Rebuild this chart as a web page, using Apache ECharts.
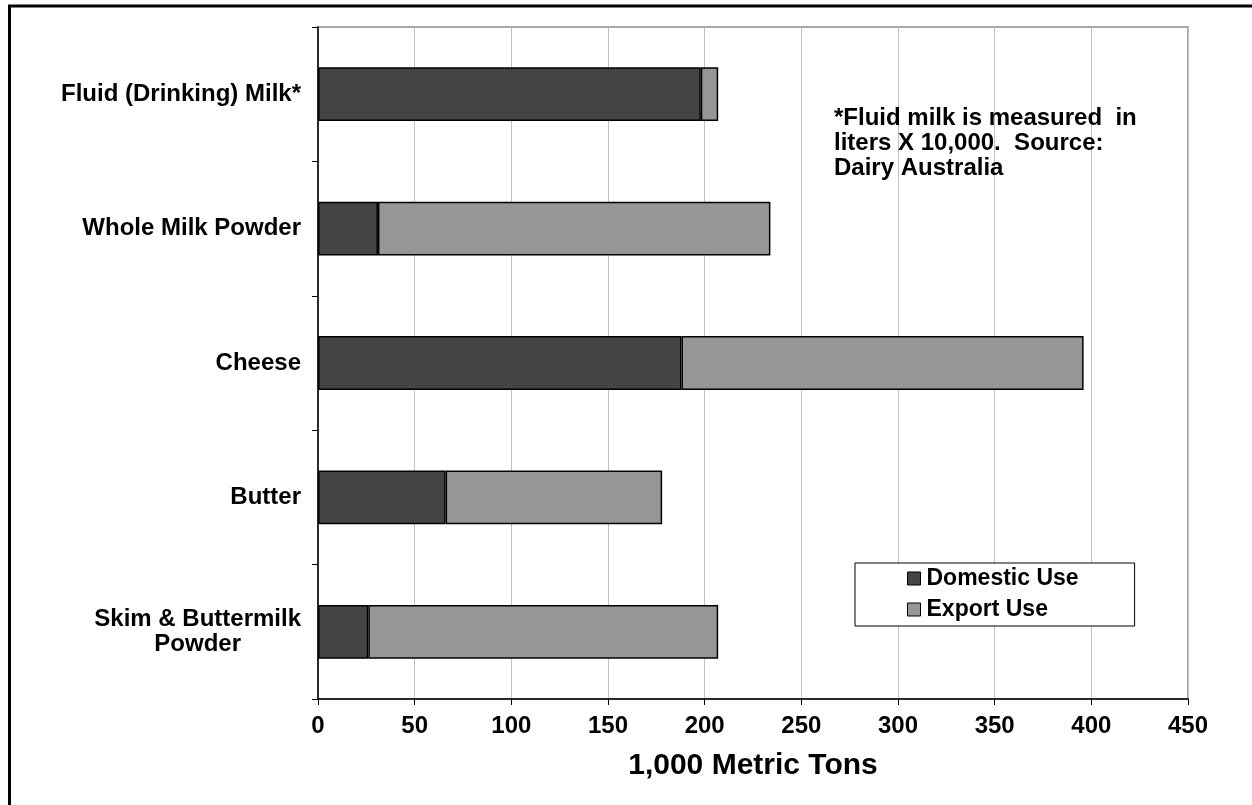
<!DOCTYPE html>
<html>
<head>
<meta charset="utf-8">
<title>Dairy Product Use</title>
<script src="https://cdn.jsdelivr.net/npm/echarts@6/dist/echarts.min.js"></script>
<style>
  html, body { margin: 0; padding: 0; background: #ffffff; }
  #chart { width: 1252px; height: 805px; }
</style>
</head>
<body>
<div id="chart"></div>
<script>
// Product categories, top to bottom
const categories = [
  'Fluid (Drinking) Milk*',
  'Whole Milk Powder',
  'Cheese',
  'Butter',
  'Skim & Buttermilk\nPowder'
];
// Volumes in 1,000 metric tons (fluid milk in liters x 10,000)
const domesticUse = [198, 31, 188, 66, 26];
const exportUse = [9, 203, 208, 112, 181];
const seriesNames = ['Domestic Use', 'Export Use'];
const noteLines = [
  '*Fluid milk is measured  in',
  'liters X 10,000.  Source:',
  'Dairy Australia'
];

const FONT = '"Liberation Sans", Arial, Helvetica, sans-serif';
const chart = echarts.init(document.getElementById('chart'), null, { renderer: 'canvas' });

chart.setOption({
  animation: false,
  backgroundColor: '#ffffff',
  textStyle: { fontFamily: FONT, color: '#000' },
  grid: {
    left: 318, right: 64, top: 27, bottom: 106,
    show: true, borderColor: '#a8a8a8', borderWidth: 2, backgroundColor: 'transparent'
  },
  legend: {
    orient: 'vertical',
    left: 855, top: 563,
    padding: [4, 56, 5, 52],
    itemGap: 8,
    itemWidth: 13, itemHeight: 13,
    backgroundColor: '#fff',
    borderColor: '#000', borderWidth: 1,
    icon: 'rect',
    itemStyle: { borderColor: '#000', borderWidth: 1 },
    textStyle: { fontFamily: FONT, fontSize: 23, fontWeight: 'bold', color: '#000', lineHeight: 22, padding: [0, 0, 0, 1] },
    data: seriesNames
  },
  xAxis: {
    type: 'value',
    min: 0, max: 450, interval: 50,
    name: '1,000 Metric Tons',
    nameLocation: 'middle',
    nameGap: 52,
    nameTextStyle: { fontFamily: FONT, fontSize: 30, fontWeight: 'bold', color: '#000', verticalAlign: 'top' },
    axisLine: { show: true, lineStyle: { color: '#000', width: 1.5 } },
    axisTick: { show: true, length: 6, lineStyle: { color: '#000', width: 1 } },
    axisLabel: { fontFamily: FONT, fontSize: 24, fontWeight: 'bold', color: '#000', margin: 15 },
    splitLine: { show: true, lineStyle: { color: '#c0c0c0', width: 1 } }
  },
  yAxis: {
    type: 'category',
    inverse: true,
    data: categories,
    axisLine: { show: true, lineStyle: { color: '#000', width: 1.5 } },
    axisTick: { show: true, inside: false, length: 6, alignWithLabel: false, lineStyle: { color: '#000', width: 1 } },
    axisLabel: {
      margin: 17,
      align: 'right',
      formatter: function (v) {
        return v.split('\n').map(function (s) { return '{c|' + s + '}'; }).join('\n');
      },
      rich: {
        c: { fontFamily: FONT, fontSize: 24, fontWeight: 'bold', color: '#000', lineHeight: 25, align: 'center' }
      }
    },
    splitLine: { show: false }
  },
  series: [
    {
      name: seriesNames[0],
      type: 'bar',
      stack: 'use',
      data: domesticUse,
      barCategoryGap: '60%',
      itemStyle: { color: '#444444', borderColor: '#000', borderWidth: 1.5 }
    },
    {
      name: seriesNames[1],
      type: 'bar',
      stack: 'use',
      data: exportUse,
      barCategoryGap: '60%',
      itemStyle: { color: '#969696', borderColor: '#000', borderWidth: 1.5 }
    }
  ],
  graphic: [
    {
      type: 'rect',
      silent: true,
      shape: { x: 9.5, y: 6, width: 1300, height: 850 },
      style: { fill: 'transparent', stroke: '#000', lineWidth: 3 },
      z: 100
    },
    {
      type: 'text',
      left: 834, top: 106,
      silent: true,
      style: {
        text: noteLines.join('\n'),
        font: 'bold 24px ' + FONT,
        lineHeight: 25,
        fill: '#000'
      },
      z: 50
    }
  ]
});
</script>
</body>
</html>
